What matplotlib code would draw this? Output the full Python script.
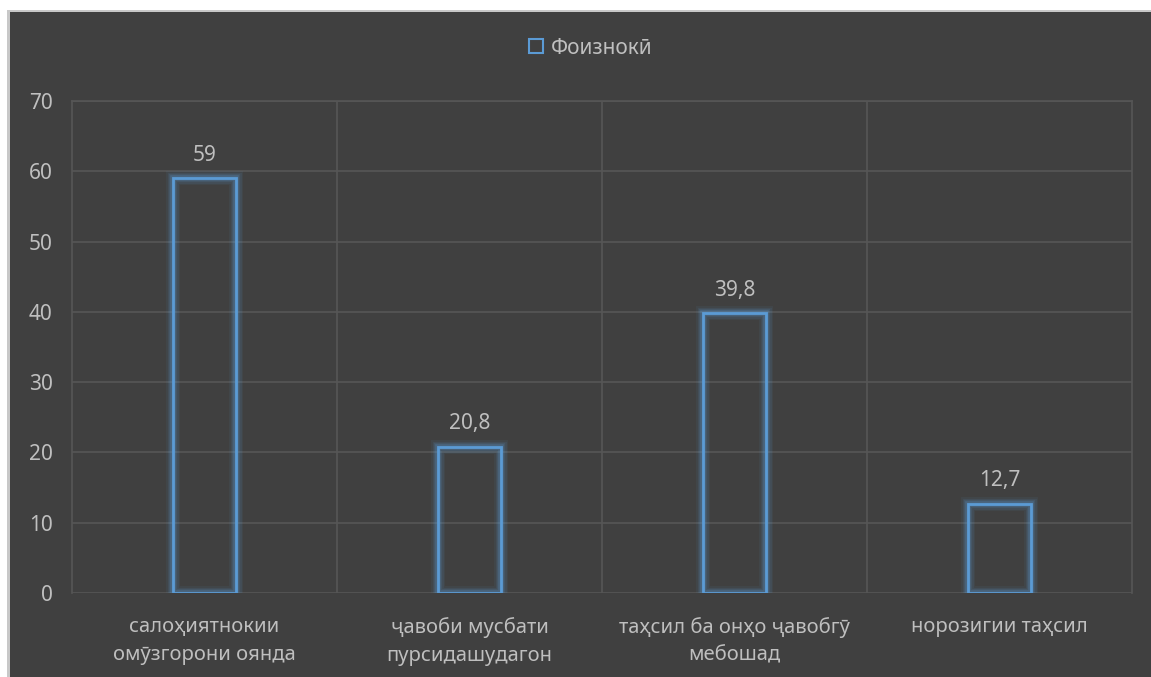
import matplotlib
import matplotlib.pyplot as plt
from matplotlib.patches import Rectangle
from matplotlib.lines import Line2D

matplotlib.use("Agg")

CATEGORIES = [
    "салоҳиятнокии\nомӯзгорони оянда",
    "ҷавоби мусбати\nпурсидашудагон",
    "таҳсил ба онҳо ҷавобгӯ\nмебошад",
    "норозигии таҳсил",
]
VALUES = [59, 20.8, 39.8, 12.7]
SERIES_NAME = "Фоизнокӣ"
Y_TICKS = [0, 10, 20, 30, 40, 50, 60, 70]

BG = "#404040"
GRID = "#565656"
TEXT = "#BFBFBF"
BLUE = "#5B9BD5"
FONT = ["Noto Sans", "DejaVu Sans"]

W, H = 1151, 677


def main():
    plt.rcParams["font.family"] = FONT
    fig = plt.figure(figsize=(W / 100, H / 100), dpi=100, facecolor="white")

    # dark chart area with thin gray border (the screenshot frame)
    fig.patches.append(Rectangle((7 / W, 0), 1, (H - 10) / H, transform=fig.transFigure,
                                 facecolor="#C8C8C8", edgecolor="none", zorder=-2))
    fig.patches.append(Rectangle((10 / W, 0), 1, (H - 12) / H, transform=fig.transFigure,
                                 facecolor=BG, edgecolor="none", zorder=-1))

    ax = fig.add_axes([72 / W, 84 / H, (1132 - 72) / W, (593 - 101) / H])
    ax.patch.set_alpha(0)

    x = list(range(len(CATEGORIES)))
    width = 0.24

    # glow around the outlined bars
    for lw, a in [(10, 0.07), (8, 0.09), (6, 0.13), (4, 0.22)]:
        ax.bar(x, VALUES, width=width, fill=False, edgecolor=BLUE,
               linewidth=lw, alpha=a, zorder=3)
    ax.bar(x, VALUES, width=width, fill=False, edgecolor=BLUE,
           linewidth=2.0, zorder=4)

    for xi, v in zip(x, VALUES):
        ax.annotate(f"{v:g}".replace(".", ","), (xi, v), xytext=(0, 9),
                    textcoords="offset points", ha="center", va="bottom",
                    color=TEXT, fontsize=15)

    ax.set_xlim(-0.5, len(CATEGORIES) - 0.5)
    ax.set_ylim(0, 70)
    ax.set_yticks(Y_TICKS)
    ax.set_xticks(x)
    ax.set_xticklabels(CATEGORIES, fontsize=14.5, color=TEXT, linespacing=1.55)
    ax.tick_params(axis="y", length=0, pad=14, labelsize=15, labelcolor=TEXT)
    ax.tick_params(axis="x", length=0, pad=17)

    ax.grid(axis="y", color=GRID, linewidth=1.2, zorder=1)
    for b in [0.5, 1.5, 2.5]:
        ax.axvline(b, color=GRID, linewidth=1.2, zorder=1)
    for side in ["top", "left", "right"]:
        ax.spines[side].set_color(GRID)
        ax.spines[side].set_linewidth(1.2)
    ax.spines["bottom"].set_visible(False)

    handle = Line2D([], [], marker="s", linestyle="none", markersize=10,
                    markerfacecolor="none", markeredgecolor=BLUE, markeredgewidth=1.5)
    fig.legend([handle], [SERIES_NAME], loc="center",
               bbox_to_anchor=(590 / W, (H - 48) / H),
               frameon=False, fontsize=15, labelcolor=TEXT, handletextpad=0.3,
               handlelength=0.8)

    fig.savefig("out.png", dpi=100, facecolor=fig.get_facecolor())
    plt.close(fig)


if __name__ == "__main__":
    main()
